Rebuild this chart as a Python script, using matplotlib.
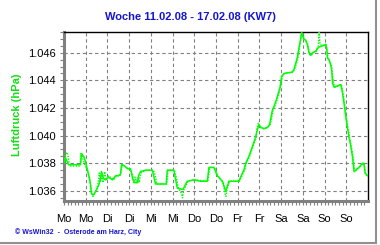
import numpy as np
import matplotlib
matplotlib.use("Agg")
import matplotlib.pyplot as plt
from matplotlib.lines import Line2D

# Luftdruck Woche 11.02.08 - 17.02.08, Stunden ab Montag 0 Uhr
solid_h = [0.0, 0.8, 2.5, 9.1, 9.7, 11.3, 13.0, 14.1, 14.7, 15.2, 16.3, 18.0, 19.1, 20.2,
           20.7, 21.8, 23.0, 24.6, 26.8, 28.5, 30.1, 31.2, 31.8, 33.5, 35.1, 36.8, 37.9,
           39.0, 40.6, 41.2, 42.3, 45.1, 48.8, 50.6, 56.5, 57.1, 60.7, 62.6, 65.7, 68.1,
           71.8, 75.5, 79.2, 80.1, 82.8, 84.7, 87.5, 89.3, 90.2, 91.1, 96.7, 97.6, 99.4,
           100.4, 102.2, 104.1, 105.9, 106.8, 107.7, 108.7, 110.5, 112.4, 113.6, 114.2,
           115.1, 116.0, 117.4, 118.5, 119.4, 120.3, 121.6, 126.2, 127.1, 128.0, 129.0,
           129.9, 130.8, 131.2, 132.6, 133.6, 134.5, 135.4, 136.3, 137.3, 139.1, 140.0,
           140.9, 142.8, 144.6, 145.2, 145.6, 146.5, 147.4, 148.0, 148.4, 149.3, 153.0,
           153.9, 154.8, 155.7, 156.6, 157.5, 158.4, 159.4, 160.3, 161.2, 163.0, 164.9,
           165.8, 166.4, 167.7]
solid_p = [1.0380, 1.0384, 1.0379, 1.0379, 1.0387, 1.0384, 1.0375, 1.0369, 1.0364, 1.0358,
           1.0357, 1.0361, 1.0364, 1.0369, 1.0374, 1.0369, 1.0368, 1.0370, 1.0368, 1.0371,
           1.0371, 1.0372, 1.0379, 1.0378, 1.0376, 1.0376, 1.0369, 1.0366, 1.0366, 1.0371,
           1.0374, 1.0375, 1.0375, 1.0365, 1.0365, 1.0375, 1.0375, 1.0362, 1.0361, 1.0367,
           1.0368, 1.0367, 1.0367, 1.0377, 1.0377, 1.0371, 1.0367, 1.0360, 1.0363, 1.0367,
           1.0367, 1.0370, 1.0375, 1.0380, 1.0385, 1.0392, 1.0399, 1.0404, 1.0408, 1.0406,
           1.0405, 1.0406, 1.0408, 1.0412, 1.0418, 1.0421, 1.0426, 1.0431, 1.0435, 1.0443,
           1.0445, 1.0446, 1.0448, 1.0452, 1.0457, 1.0464, 1.0470, 1.0474, 1.0470, 1.0469,
           1.0466, 1.0460, 1.0458, 1.0460, 1.0461, 1.0463, 1.0464, 1.0465, 1.0466, 1.0463,
           1.0456, 1.0455, 1.0451, 1.0447, 1.0438, 1.0435, 1.0437, 1.0431, 1.0423, 1.0414,
           1.0406, 1.0399, 1.0393, 1.0385, 1.0374, 1.0375, 1.0377, 1.0380, 1.0380, 1.0373,
           1.0371]

dot_h = [0.0, 0.5, 1.5, 2.2, 3.0, 9.0, 9.3, 10.0, 11.5, 12.5, 13.5, 14.5, 15.0, 15.5, 16.0,
         17.0, 18.0, 18.9, 19.5, 20.0, 20.8, 21.5, 22.5, 23.2, 24.5, 27.5, 29.0, 31.0, 32.3,
         35.5, 37.0, 38.0, 38.5, 39.3, 40.0, 41.0, 41.5, 42.5, 45.5, 49.3, 50.5, 51.3, 56.8,
         57.5, 61.0, 62.0, 63.2, 65.0, 65.5, 66.0, 68.5, 72.0, 79.5, 80.5, 83.3, 85.0, 88.0,
         89.0, 89.5, 90.3, 91.5, 97.0, 98.0, 99.8, 100.8, 102.6, 104.4, 106.2, 106.6, 107.4,
         108.7, 110.5, 112.6, 114.0, 114.6, 115.5, 116.4, 117.8, 118.9, 119.8, 120.7, 121.8,
         126.5, 127.5, 128.4, 129.4, 130.2, 131.0, 131.5, 132.8, 133.8, 134.8, 135.6, 136.6,
         137.6, 139.4, 140.5, 141.0, 141.5, 143.0, 144.8, 145.5, 146.0, 147.0, 148.0, 148.7,
         149.6, 153.3, 154.2, 155.2, 156.0, 157.0, 157.9, 158.8, 159.8, 160.6, 161.5, 163.3,
         165.2, 166.0, 166.6, 167.5]
dot_p = [1.0381, 1.0385, 1.0388, 1.0386, 1.0378, 1.0378, 1.0387, 1.0385, 1.0379, 1.0376,
         1.0372, 1.0366, 1.0361, 1.0357, 1.0356, 1.0358, 1.0361, 1.0366, 1.0373, 1.0366,
         1.0373, 1.0366, 1.0374, 1.0368, 1.0371, 1.0368, 1.0371, 1.0371, 1.0379, 1.0376,
         1.0375, 1.0371, 1.0366, 1.0370, 1.0366, 1.0370, 1.0366, 1.0373, 1.0375, 1.0375,
         1.0371, 1.0365, 1.0365, 1.0375, 1.0375, 1.0370, 1.0362, 1.0358, 1.0355, 1.0360,
         1.0367, 1.0368, 1.0367, 1.0377, 1.0377, 1.0371, 1.0366, 1.0358, 1.0356, 1.0362,
         1.0367, 1.0367, 1.0370, 1.0375, 1.0380, 1.0385, 1.0392, 1.0399, 1.0405, 1.0409,
         1.0406, 1.0405, 1.0406, 1.0408, 1.0412, 1.0418, 1.0421, 1.0426, 1.0431, 1.0436,
         1.0443, 1.0445, 1.0446, 1.0448, 1.0452, 1.0457, 1.0464, 1.0471, 1.0475, 1.0470,
         1.0468, 1.0466, 1.0459, 1.0458, 1.0460, 1.0461, 1.0465, 1.0476, 1.0466, 1.0465,
         1.0466, 1.0461, 1.0455, 1.0454, 1.0449, 1.0440, 1.0435, 1.0437, 1.0431, 1.0422,
         1.0413, 1.0405, 1.0398, 1.0392, 1.0384, 1.0374, 1.0375, 1.0377, 1.0380, 1.0378,
         1.0373, 1.0370]

day_labels = ["Mo", "Mo", "Di", "Di", "Mi", "Mi", "Do", "Do", "Fr", "Fr", "Sa", "Sa", "So", "So"]
y_ticks = [1.036, 1.038, 1.040, 1.042, 1.044, 1.046]

plt.rcParams['font.family'] = ['Liberation Sans', 'DejaVu Sans']

fig = plt.figure(figsize=(3.8, 2.45), dpi=100)
ax = fig.add_axes([64 / 380, 44 / 245, 304 / 380, 169 / 245])

ax.plot(dot_h, dot_p, color="#00ff00", lw=1.0, ls=(0, (1, 1)), zorder=3)
ax.plot(solid_h, solid_p, color="#00ff00", lw=1.1, zorder=4)

ax.set_xlim(0, 168)
ax.set_ylim(1.03527, 1.04750)

ax.set_xticks(np.arange(0, 168, 12))
ax.set_xticklabels(day_labels)
ax.set_xticks(np.arange(0, 168, 2), minor=True)
ax.set_yticks(y_ticks)
ax.set_yticklabels([f"{v:.3f}" for v in y_ticks])
ax.set_yticks(np.arange(1.0355, 1.0475, 0.0005), minor=True)

ax.grid(True, which="major", color="#808080", ls=(0, (3, 2.5)), lw=0.8)
ax.tick_params(axis="both", which="major", labelsize=8, color="#808080", length=3, width=0.8)
ax.tick_params(axis="both", which="minor", color="#808080", length=3, width=0.8)
ax.tick_params(axis="x", pad=6)
ax.tick_params(axis="y", pad=3)

for s in ["left", "bottom"]:
    ax.spines[s].set_color("#808080")
    ax.spines[s].set_linewidth(2.2)
for s in ["top", "right"]:
    ax.spines[s].set_color("black")
    ax.spines[s].set_linewidth(1.0)

fig.text(0.5, 1 - 17 / 245, "Woche 11.02.08 - 17.02.08 (KW7)", ha="center", va="center",
         fontsize=8, fontweight="bold", color="#1414d2")
fig.text(17.5 / 380, 1 - 115 / 245, "Luftdruck (hPa)", rotation=90, ha="center", va="center",
         fontsize=8, fontweight="bold", color="#12e012")
fig.text(15 / 380, 1 - 232 / 245, "\u00a9 WsWin32  -  Osterode am Harz, City", ha="left",
         va="center", fontsize=5, fontweight="bold", color="#1414d2")

# grauer Rahmen rechts und unten
fig.add_artist(Line2D([376 / 380, 376 / 380], [2 / 245, 1], color="#909090", lw=1.5))
fig.add_artist(Line2D([0, 376 / 380], [2 / 245, 2 / 245], color="#909090", lw=1.5))

fig.savefig("out.png", dpi=100)
